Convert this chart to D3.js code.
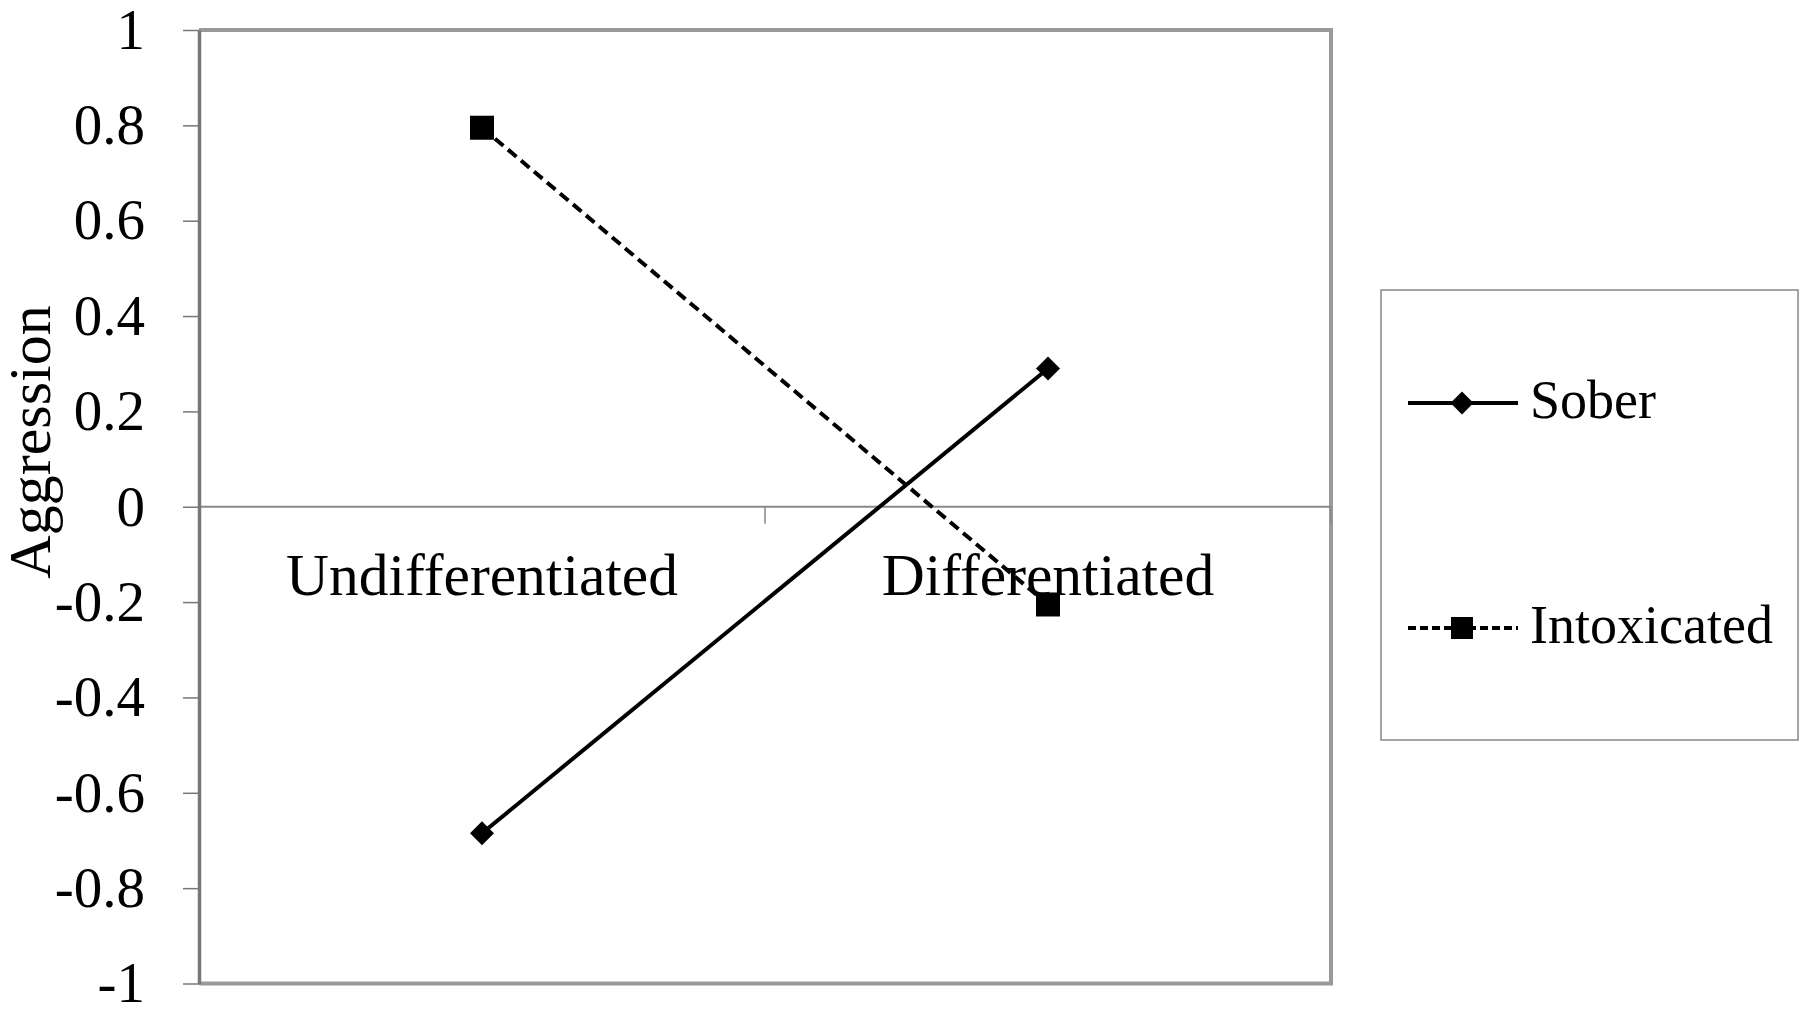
<!DOCTYPE html>
<html>
<head>
<meta charset="utf-8">
<script src="https://cdn.jsdelivr.net/npm/d3@7"></script>
<style>
  body { margin: 0; background: #fff; }
  text { font-family: "Liberation Serif", "Times New Roman", serif; fill: #000; }
</style>
</head>
<body>
<div id="chart"></div>
<script>
// data
const categories = ['Undifferentiated', 'Differentiated'];
const seriesNames = ['Sober', 'Intoxicated'];
const soberValues = [-0.685, 0.29];
const intoxicatedValues = [0.795, -0.205];
const yTicks = [1, 0.8, 0.6, 0.4, 0.2, 0, -0.2, -0.4, -0.6, -0.8, -1];

const width = 1800, height = 1009;
const plot = {left: 199, right: 1331, top: 30, bottom: 983.5};

const svg = d3.select('#chart').append('svg')
    .attr('width', width)
    .attr('height', height);

svg.append('rect').attr('width', width).attr('height', height).attr('fill', '#fff');

const x = d3.scaleBand().domain(categories).range([plot.left, plot.right]);
const y = d3.scaleLinear().domain([-1, 1]).range([plot.bottom, plot.top]);

// frame (top, right, bottom)
svg.append('path')
    .attr('d', `M${plot.left},${plot.top}H${plot.right}V${plot.bottom}H${plot.left}`)
    .attr('fill', 'none')
    .attr('stroke', '#999')
    .attr('stroke-width', 4);

// zero line with category ticks
svg.append('line')
    .attr('x1', plot.left).attr('x2', plot.right)
    .attr('y1', y(0)).attr('y2', y(0))
    .attr('stroke', '#888').attr('stroke-width', 2);

const boundaries = categories.map(c => x(c) + x.bandwidth());
svg.selectAll('.xtick').data(boundaries)
    .join('line')
    .attr('class', 'xtick')
    .attr('x1', d => d).attr('x2', d => d)
    .attr('y1', y(0)).attr('y2', y(0) + 17)
    .attr('stroke', '#888').attr('stroke-width', 1.5);

svg.selectAll('.xlabel').data(categories)
    .join('text')
    .attr('class', 'xlabel')
    .attr('x', d => x(d) + x.bandwidth() / 2)
    .attr('y', y(0) + 88)
    .attr('text-anchor', 'middle')
    .style('font-size', '59.5px')
    .text(d => d);

// y axis
const yAxis = svg.append('g')
    .attr('transform', `translate(${plot.left},0)`)
    .call(d3.axisLeft(y).tickValues(yTicks).tickSize(16).tickSizeOuter(0).tickPadding(38)
        .tickFormat(d => String(d)));
yAxis.select('.domain').attr('stroke', '#777').attr('stroke-width', 3.5);
yAxis.selectAll('.tick line').attr('stroke', '#777').attr('stroke-width', 1.5);
yAxis.selectAll('.tick text')
    .style('font-family', '"Liberation Serif", serif')
    .style('font-size', '57px')
    .attr('fill', '#000');

svg.append('text')
    .attr('transform', 'translate(50,442) rotate(-90)')
    .attr('text-anchor', 'middle')
    .style('font-size', '60px')
    .text('Aggression');

// series lines
const line = d3.line()
    .x((d, i) => x(categories[i]) + x.bandwidth() / 2)
    .y(d => y(d));

svg.append('path')
    .datum(soberValues)
    .attr('d', line)
    .attr('fill', 'none')
    .attr('stroke', '#000')
    .attr('stroke-width', 4);

svg.append('path')
    .datum(intoxicatedValues)
    .attr('d', line)
    .attr('fill', 'none')
    .attr('stroke', '#000')
    .attr('stroke-width', 4)
    .attr('stroke-dasharray', '11,6');

const diamond = s => `M0,${-s}L${s},0L0,${s}L${-s},0Z`;

svg.selectAll('.sober-pt').data(soberValues)
    .join('path')
    .attr('class', 'sober-pt')
    .attr('transform', (d, i) => `translate(${x(categories[i]) + x.bandwidth() / 2},${y(d)})`)
    .attr('d', diamond(12))
    .attr('fill', '#000');

svg.selectAll('.intox-pt').data(intoxicatedValues)
    .join('rect')
    .attr('class', 'intox-pt')
    .attr('x', (d, i) => x(categories[i]) + x.bandwidth() / 2 - 12)
    .attr('y', d => y(d) - 12)
    .attr('width', 24).attr('height', 24)
    .attr('fill', '#000');

// legend
const legend = svg.append('g');
legend.append('rect')
    .attr('x', 1381).attr('y', 290)
    .attr('width', 417).attr('height', 450)
    .attr('fill', '#fff')
    .attr('stroke', '#888')
    .attr('stroke-width', 1.5);

const legendY = [403, 628];
seriesNames.forEach((name, i) => {
    legend.append('line')
        .attr('x1', 1408).attr('x2', 1518)
        .attr('y1', legendY[i]).attr('y2', legendY[i])
        .attr('stroke', '#000').attr('stroke-width', 4)
        .attr('stroke-dasharray', i === 1 ? '8,4' : null);
    if (i === 0) {
        legend.append('path')
            .attr('transform', `translate(1462,${legendY[i]})`)
            .attr('d', diamond(11.5))
            .attr('fill', '#000');
    } else {
        legend.append('rect')
            .attr('x', 1451).attr('y', legendY[i] - 11)
            .attr('width', 22).attr('height', 22)
            .attr('fill', '#000');
    }
    legend.append('text')
        .attr('x', 1530).attr('y', legendY[i] + 15)
        .style('font-size', '54px')
        .text(name);
});
</script>
</body>
</html>
